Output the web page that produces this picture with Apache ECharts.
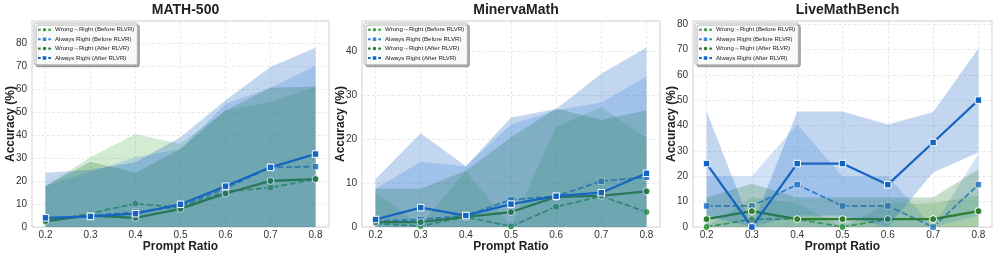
<!DOCTYPE html>
<html><head><meta charset="utf-8">
<script src="https://cdn.jsdelivr.net/npm/echarts@6/dist/echarts.min.js"></script>
<style>html,body{margin:0;padding:0;background:#fff}#c{width:996px;height:255px}</style>
</head><body><div id="c"></div>
<script>
// ---------- data ----------
const ratios = [0.2, 0.3, 0.4, 0.5, 0.6, 0.7, 0.8];
const xTickLabels = [0.2, 0.3, 0.4, 0.5, 0.6, 0.7, 0.8];
const panelTitles = ['MATH-500', 'MinervaMath', 'LiveMathBench'];
const seriesNames = ['Wrong→Right (Before RLVR)', 'Always Right (Before RLVR)', 'Wrong→Right (After RLVR)', 'Always Right (After RLVR)'];
const yTicksMath = [0, 10, 20, 30, 40, 50, 60, 70, 80];
const yTicksMinerva = [0, 10, 20, 30, 40];
const yTicksLive = [0, 10, 20, 30, 40, 50, 60, 70, 80];

// MATH-500
const mathWrBefore   = [2.2, 6.0, 10.2, 8.5, 15.4, 17.2, 20.8];
const mathWrBeforeLo = [0, 0, 0, 0, 0, 0, 0];
const mathWrBeforeHi = [17.9, 30.4, 40.5, 36.2, 50.8, 54.5, 61.3];
const mathArBefore   = [3.0, 5.0, 6.5, 9.0, 16.8, 26.0, 26.3];
const mathArBeforeLo = [0, 0, 0, 0, 0, 0, 0];
const mathArBeforeHi = [17.9, 24.0, 30.4, 34.0, 53.7, 60.7, 70.2];
const mathWrAfter    = [2.6, 5.0, 4.0, 7.9, 14.6, 20.1, 20.9];
const mathWrAfterLo  = [0, 0, 0, 0, 0, 0, 0];
const mathWrAfterHi  = [17.9, 28.4, 23.7, 34.0, 50.8, 60.7, 61.3];
const mathArAfter    = [4.0, 4.6, 5.8, 9.9, 17.8, 26.0, 31.8];
const mathArAfterLo  = [0, 0, 0, 0, 0, 0, 0];
const mathArAfterHi  = [23.7, 25.0, 28.2, 39.1, 55.2, 69.8, 78.1];

// MinervaMath
const minWrBefore   = [0.8, 0.2, 2.3, 0.15, 4.6, 7.0, 3.4];
const minWrBeforeLo = [0, 0, 0, 0, 0, 0, 0];
const minWrBeforeHi = [7.8, 0.5, 12.8, 0.3, 22.7, 27.2, 20.2];
const minArBefore   = [1.4, 1.7, 2.6, 6.2, 7.0, 10.4, 11.3];
const minArBeforeLo = [0, 0, 0, 0, 0, 0, 0];
const minArBeforeHi = [8.7, 14.8, 13.8, 23.3, 26.5, 28.3, 34.2];
const minWrAfter    = [1.1, 1.1, 2.3, 3.4, 6.8, 7.1, 8.1];
const minWrAfterLo  = [0, 0, 0, 0, 0, 0, 0];
const minWrAfterHi  = [8.7, 8.7, 12.8, 20.4, 26.9, 24.3, 26.5];
const minArAfter    = [1.7, 4.4, 2.6, 5.2, 7.0, 7.8, 12.2];
const minArAfterLo  = [0, 0, 0, 0, 0, 0, 0];
const minArAfterHi  = [10.9, 21.3, 13.8, 24.9, 26.8, 34.8, 40.8];

// LiveMathBench
const liveWrBefore   = [0, 3.1, 3.1, 0, 3.1, 3.1, 6.25];
const liveWrBeforeLo = [0, 0, 0, 0, 0, 0, 0];
const liveWrBeforeHi = [0, 11.6, 9.4, 0, 9.4, 9.4, 12.5];
const liveArBefore   = [8.3, 8.3, 16.7, 8.3, 8.3, 0, 16.7];
const liveArBeforeLo = [0, 0, 0, 0, 0, 0, 4.5];
const liveArBeforeHi = [20, 20, 40.5, 20, 20, 0, 29];
const liveWrAfter    = [3.1, 6.25, 3.1, 3.1, 3.1, 3.1, 6.25];
const liveWrAfterLo  = [0, 0, 0, 0, 0, 0, 0];
const liveWrAfterHi  = [11.6, 17, 11.6, 11.6, 11.6, 11.6, 22.8];
const liveArAfter    = [25, 0, 25, 25, 16.7, 33.3, 50];
const liveArAfterLo  = [4.5, 0, 4.5, 4.5, 0, 21.5, 29.4];
const liveArAfterHi  = [45.5, 0, 45.5, 45.5, 40.4, 45.3, 70.4];

// ---------- build ----------
const FONT = 'Liberation Sans, Arial, sans-serif';
const colors = ['#43a047', '#3d85d6', '#2e7d32', '#1565c0'];
const bandColors = ['rgba(76,175,80,0.25)', 'rgba(74,144,226,0.25)', 'rgba(46,125,50,0.26)', 'rgba(21,101,192,0.26)'];
const symbols = ['circle', 'rect', 'circle', 'rect'];
const dashed = [true, true, false, false];

const panels = [
  { title: panelTitles[0], yMax: 89.8, yTicks: yTicksMath, left: 32, width: 297,
    s: [[mathWrBefore, mathWrBeforeLo, mathWrBeforeHi], [mathArBefore, mathArBeforeLo, mathArBeforeHi],
        [mathWrAfter, mathWrAfterLo, mathWrAfterHi], [mathArAfter, mathArAfterLo, mathArAfterHi]] },
  { title: panelTitles[1], yMax: 46.8, yTicks: yTicksMinerva, left: 362, width: 298,
    s: [[minWrBefore, minWrBeforeLo, minWrBeforeHi], [minArBefore, minArBeforeLo, minArBeforeHi],
        [minWrAfter, minWrAfterLo, minWrAfterHi], [minArAfter, minArAfterLo, minArAfterHi]] },
  { title: panelTitles[2], yMax: 81.2, yTicks: yTicksLive, left: 693, width: 299,
    s: [[liveWrBefore, liveWrBeforeLo, liveWrBeforeHi], [liveArBefore, liveArBeforeLo, liveArBeforeHi],
        [liveWrAfter, liveWrAfterLo, liveWrAfterHi], [liveArAfter, liveArAfterLo, liveArAfterHi]] }
];

const grid = [], xAxis = [], yAxis = [], title = [], legend = [], series = [];
const splitStyle = { type: [3, 2], color: '#e3e3e3', width: 0.8 };

panels.forEach((p, pi) => {
  grid.push({ left: p.left, top: 21, width: p.width, height: 206, show: true, outerBoundsMode: 'none',
    borderColor: '#cfcfcf', borderWidth: 1, backgroundColor: 'transparent' });
  title.push({ text: p.title, left: p.left + p.width / 2, top: -2, textAlign: 'center',
    textStyle: { fontFamily: FONT, fontSize: 14, fontWeight: 'bold', color: '#222' } });
  xAxis.push({ type: 'value', gridIndex: pi, min: 0.17, max: 0.83,
    axisLine: { show: false }, axisTick: { show: false, customValues: xTickLabels },
    axisLabel: { customValues: xTickLabels, formatter: v => v.toFixed(1), fontFamily: FONT, fontSize: 10, color: '#333', margin: 3 },
    splitLine: { show: true, lineStyle: splitStyle },
    name: 'Prompt Ratio', nameLocation: 'middle', nameGap: 14, nameMoveOverlap: false,
    nameTextStyle: { fontFamily: FONT, fontSize: 12, fontWeight: 'bold', color: '#222' } });
  yAxis.push({ type: 'value', gridIndex: pi, min: 0, max: p.yMax, interval: 10,
    axisLine: { show: false }, axisTick: { show: false },
    axisLabel: { customValues: p.yTicks, fontFamily: FONT, fontSize: 10, color: '#333', margin: 5 },
    splitLine: { show: true, lineStyle: splitStyle },
    name: 'Accuracy (%)', nameLocation: 'middle', nameGap: 15, nameRotate: 90, nameMoveOverlap: false,
    nameTextStyle: { fontFamily: FONT, fontSize: 12, fontWeight: 'bold', color: '#222' } });
  legend.push({ orient: 'vertical', left: p.left + 2, top: 23, data: seriesNames,
    itemWidth: 13, itemHeight: 7, itemGap: 1.8, padding: [3, 3, 3, 3],
    backgroundColor: 'rgba(255,255,255,0.92)', borderColor: '#aaa', borderWidth: 0.8, borderRadius: 2,
    shadowColor: 'rgba(0,0,0,0.35)', shadowBlur: 0, shadowOffsetX: 2, shadowOffsetY: 2,
    textStyle: { fontFamily: FONT, fontSize: 6.1, color: '#222', lineHeight: 6.1, padding: [0, 0, 0, -1] } });

  p.s.forEach((trip, k) => {
    const [mean, lo, hi] = trip;
    series.push({ type: 'custom', xAxisIndex: pi, yAxisIndex: pi, silent: true, clip: true,
      data: ratios.map((x, i) => [x, lo[i], hi[i]]), encode: { x: 0, y: [1, 2] }, z: 2 + k * 2,
      renderItem: (params, api) => {
        if (params.dataIndex !== 0) return;
        const up = ratios.map((x, i) => api.coord([x, hi[i]]));
        const dn = ratios.map((x, i) => api.coord([x, lo[i]])).reverse();
        return { type: 'polygon', shape: { points: up.concat(dn) }, style: { fill: bandColors[k] } };
      } });
    series.push({ type: 'line', name: seriesNames[k], xAxisIndex: pi, yAxisIndex: pi,
      data: ratios.map((x, i) => [x, mean[i]]),
      symbol: symbols[k], symbolSize: symbols[k] === 'rect' ? 6.5 : 7,
      lineStyle: { color: colors[k], width: dashed[k] ? 1.8 : 2.2, type: dashed[k] ? [6, 2.6] : 'solid' },
      itemStyle: { color: colors[k], borderColor: '#fff', borderWidth: 1 },
      z: 3 + k * 2 });
  });
});

const chart = echarts.init(document.getElementById('c'), null, { renderer: 'canvas' });
chart.setOption({ animation: false, backgroundColor: '#fff', textStyle: { fontFamily: FONT },
  title, grid, xAxis, yAxis, legend, series });
</script></body></html>
